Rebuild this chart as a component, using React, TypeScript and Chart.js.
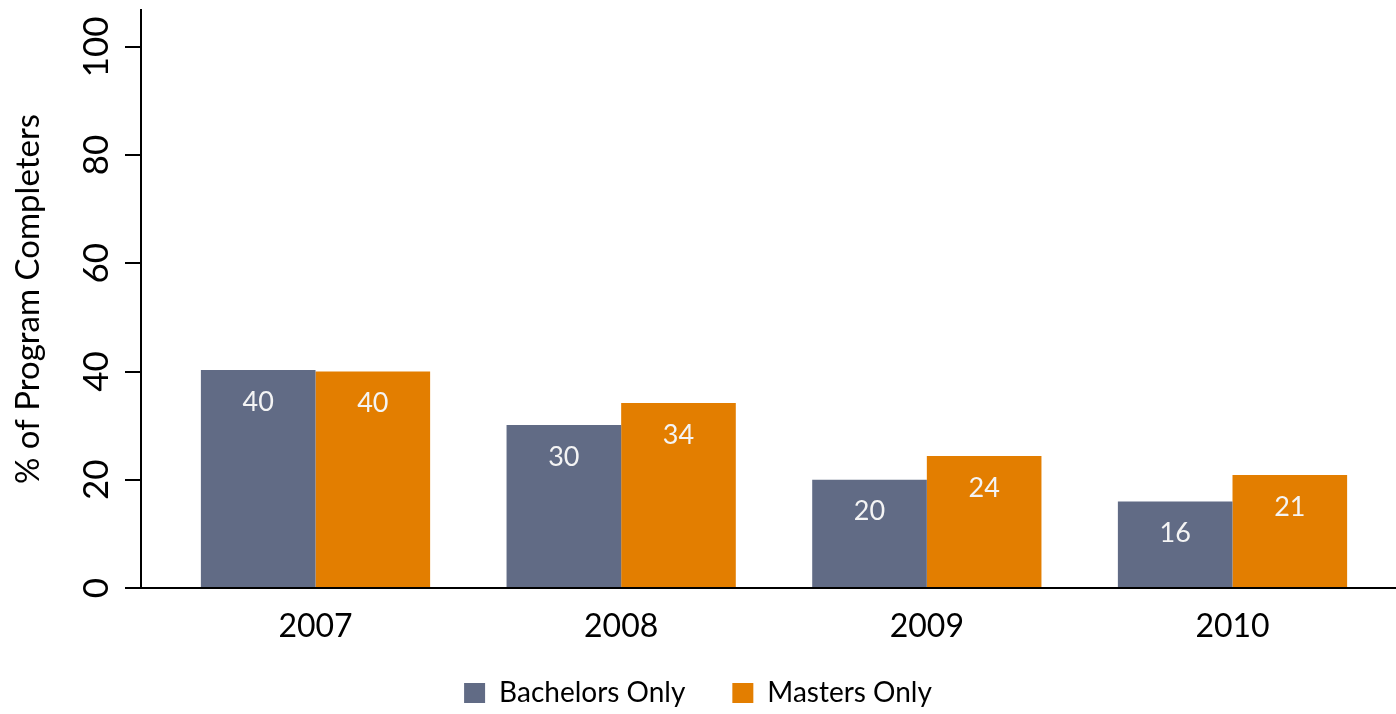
import React, { useEffect, useRef } from "react";
import { Chart, registerables } from "chart.js";

Chart.register(...registerables);

const years = ["2007", "2008", "2009", "2010"];
const bachelorsOnly = [40.3, 30.1, 20.0, 16.0];
const mastersOnly = [40.0, 34.2, 24.4, 20.9];
const yTicks = [0, 20, 40, 60, 80, 100];
const seriesNames = ["Bachelors Only", "Masters Only"];
const yTitle = "% of Program Completers";

const BLUE = "#616b85";
const ORANGE = "#e37e00";
const FONT = "Lato, 'Open Sans', sans-serif";

const LEGEND_HEIGHT = 70;
const LEGEND_SHIFT = 12;

const valueLabels = {
  id: "valueLabels",
  afterDatasetsDraw(chart: any) {
    const ctx = chart.ctx;
    ctx.save();
    ctx.font = `27px ${FONT}`;
    ctx.fillStyle = "#f4f4f4";
    ctx.textAlign = "center";
    ctx.textBaseline = "middle";
    chart.data.datasets.forEach((ds: any, di: number) => {
      const meta = chart.getDatasetMeta(di);
      meta.data.forEach((bar: any, i: number) => {
        const v = ds.data[i].y;
        ctx.fillText(String(Math.round(v)), bar.x, bar.y + 32);
      });
    });
    ctx.restore();
  },
};

const legendPlacement = {
  id: "legendPlacement",
  beforeLayout(chart: any) {
    const lg = chart.legend;
    if (lg && !lg.__patched) {
      const orig = lg.fit.bind(lg);
      lg.fit = function () {
        orig();
        this.height = LEGEND_HEIGHT;
      };
      lg.__patched = true;
    }
  },
  afterLayout(chart: any) {
    const lg = chart.legend;
    if (lg) {
      lg.top -= LEGEND_SHIFT;
    }
  },
};

export default function App() {
  const ref = useRef<HTMLCanvasElement | null>(null);

  useEffect(() => {
    document.body.style.margin = "0";
    const canvas = ref.current;
    if (!canvas) return;
    const chart = new Chart(canvas, {
      type: "bar",
      data: {
        datasets: [
          {
            label: seriesNames[0],
            data: bachelorsOnly.map((v, i) => ({ x: i, y: v })),
            backgroundColor: BLUE,
            borderWidth: 0,
            categoryPercentage: 0.75,
            barPercentage: 1,
          },
          {
            label: seriesNames[1],
            data: mastersOnly.map((v, i) => ({ x: i, y: v })),
            backgroundColor: ORANGE,
            borderWidth: 0,
            categoryPercentage: 0.75,
            barPercentage: 1,
          },
        ],
      },
      options: {
        responsive: false,
        animation: false,
        devicePixelRatio: 1,
        layout: { padding: { top: 10, right: 0, left: 0, bottom: 0 } },
        plugins: {
          tooltip: { enabled: false },
          legend: {
            position: "bottom",
            labels: {
              boxWidth: 21,
              boxHeight: 20,
              padding: 47,
              color: "#000",
              font: { family: FONT, size: 28 },
            },
          },
        },
        scales: {
          x: {
            type: "linear",
            min: -0.5709,
            max: 3.5349,
            offset: false,
            afterBuildTicks: (s: any) => {
              s.ticks = years.map((_, i) => ({ value: i }));
            },
            afterFit: (s: any) => {
              s.height = 56;
              s.paddingLeft = 0;
              s.paddingRight = 0;
            },
            grid: { display: false, drawTicks: false, offset: false },
            border: { display: true, color: "#000", width: 2 },
            ticks: {
              padding: 19,
              autoSkip: false,
              maxRotation: 0,
              color: "#000",
              font: { family: FONT, size: 32 },
              callback: (v: any) => years[v] ?? "",
            },
          },
          y: {
            min: 0,
            max: 106.8,
            afterBuildTicks: (s: any) => {
              s.ticks = yTicks.map((v) => ({ value: v }));
            },
            afterFit: (s: any) => {
              s.width = 141;
              s.paddingTop = 0;
              s.paddingBottom = 0;
            },
            grid: {
              drawOnChartArea: false,
              drawTicks: true,
              tickLength: 16,
              color: "#000",
              lineWidth: 2,
            },
            border: { display: true, color: "#000", width: 2 },
            ticks: {
              minRotation: 90,
              maxRotation: 90,
              crossAlign: "center",
              padding: -2,
              color: "#000",
              font: { family: FONT, size: 35 },
            },
            title: {
              display: true,
              text: yTitle,
              color: "#000",
              font: { family: FONT, size: 33 },
              padding: { top: 9, bottom: 0 },
            },
          },
        },
      },
      plugins: [valueLabels, legendPlacement],
    } as any);
    return () => chart.destroy();
  }, []);

  return (
    <div style={{ width: 1396, height: 714 }}>
      <canvas ref={ref} width={1396} height={714} style={{ display: "block" }} />
    </div>
  );
}
